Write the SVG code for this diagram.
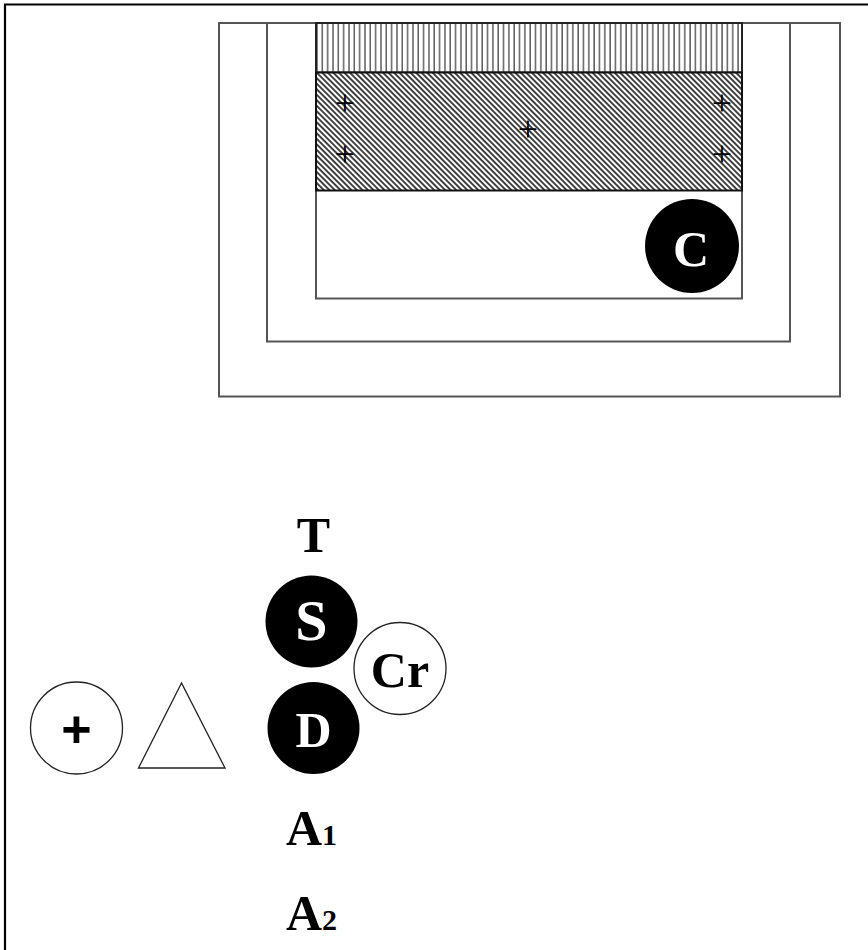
<svg xmlns="http://www.w3.org/2000/svg" width="868" height="950" viewBox="0 0 868 950">
<defs>
<pattern id="vhatch" patternUnits="userSpaceOnUse" x="316" y="0" width="5.33" height="10">
<rect width="5.33" height="10" fill="#fff"/>
<line x1="1" y1="0" x2="1" y2="10" stroke="#444" stroke-width="1.3"/>
</pattern>
<pattern id="dhatch" patternUnits="userSpaceOnUse" width="3.9" height="10" patternTransform="rotate(-45)">
<rect width="3.9" height="10" fill="#fff"/>
<line x1="1" y1="0" x2="1" y2="10" stroke="#222" stroke-width="1.7"/>
</pattern>
<style>
.frame{fill:none;stroke:#555;stroke-width:2}
.lbl{font-family:"Liberation Serif",serif;font-weight:bold;font-size:50px;text-anchor:middle}
.sub{font-family:"Liberation Serif",serif;font-weight:bold;font-size:30px}
.wt{fill:#fff}
.pl{font-family:"Liberation Serif",serif;font-size:36px;text-anchor:middle;fill:#000}
.oc{fill:#fff;stroke:#222;stroke-width:1.3}
</style>
</defs>
<rect width="868" height="950" fill="#fff"/>
<path d="M5,950 V4.5 H868" fill="none" stroke="#000" stroke-width="2.2"/>

<g id="container">
<rect class="frame" x="219" y="23" width="621" height="373.5"/>
<rect class="frame" x="267" y="23" width="523" height="318.5"/>
<rect class="frame" x="316" y="23" width="426" height="275.5"/>
<rect x="316" y="23" width="426" height="49.5" fill="url(#vhatch)" stroke="#222" stroke-width="2"/>
<rect x="316" y="72.5" width="426" height="118" fill="url(#dhatch)" stroke="#111" stroke-width="2"/>
<text class="pl" x="345" y="115">+</text>
<text class="pl" x="722" y="115">+</text>
<text class="pl" x="528" y="141">+</text>
<text class="pl" x="345" y="166">+</text>
<text class="pl" x="722" y="166">+</text>
</g>

<g id="node-C">
<circle cx="692" cy="246" r="47" fill="#000"/>
<text class="lbl wt" x="691" y="266">C</text>
</g>

<g id="node-T">
<text class="lbl" x="313.5" y="552">T</text>
</g>

<g id="node-S">
<circle cx="311.5" cy="621.5" r="46" fill="#000"/>
<text class="lbl wt" x="311.5" y="640" style="font-size:58px">S</text>
</g>

<g id="node-Cr">
<circle class="oc" cx="400" cy="668.5" r="46"/>
<text class="lbl" x="400" y="687">Cr</text>
</g>

<g id="node-D">
<circle cx="313.5" cy="728" r="46" fill="#000"/>
<text class="lbl wt" x="313.5" y="747">D</text>
</g>

<g id="node-plus">
<circle class="oc" cx="76.5" cy="728" r="46"/>
<text x="76.5" y="747" style="font-family:'Liberation Sans',sans-serif;font-weight:bold;font-size:52px;text-anchor:middle">+</text>
</g>

<g id="node-triangle">
<polygon points="181.5,683 138.5,768 225,768" fill="#fff" stroke="#222" stroke-width="1.3"/>
</g>

<g id="node-A1">
<text class="lbl" x="286" y="845" style="text-anchor:start">A<tspan class="sub">1</tspan></text>
</g>

<g id="node-A2">
<text class="lbl" x="286" y="930" style="text-anchor:start">A<tspan class="sub">2</tspan></text>
</g>

<g id="connectors"></g>
</svg>
